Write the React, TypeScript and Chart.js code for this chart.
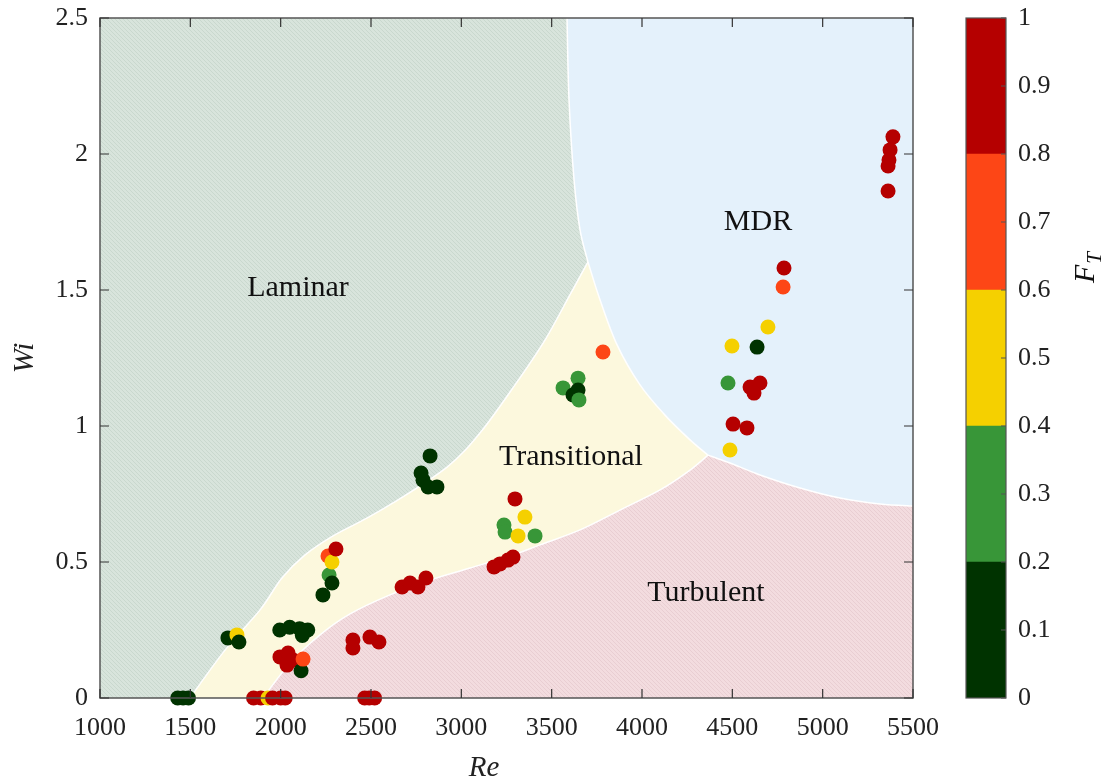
import React, { useEffect, useRef } from 'react';
import { Chart, registerables } from 'chart.js';

Chart.register(...registerables);

// ---------- data ----------
const reValues = [
  1430, 1460, 1490,
  1850, 1890, 1930, 1955, 2000, 2025,
  2465, 2490, 2520,
  2400, 2400, 2494, 2544,
  1708, 1758, 1769,
  1995, 2050, 2105, 2150, 2120,
  1996, 2041, 2035, 2068, 2113, 2124,
  2262, 2268, 2284, 2306, 2284, 2234,
  2672, 2716, 2760, 2804,
  2827, 2777, 2788, 2816, 2865,
  3181, 3214, 3258, 3286,
  3297, 3352, 3236, 3242, 3314, 3408,
  3784, 3563, 3646, 3618, 3646, 3651,
  4786, 4781, 4697, 4498, 4637, 4476, 4598, 4653, 4620, 4504, 4581, 4487,
  5389, 5373, 5367, 5362, 5362,
];
const wiValues = [
  0, 0, 0,
  0, 0, 0, 0, 0, 0,
  0, 0, 0,
  0.213, 0.184, 0.224, 0.206,
  0.221, 0.232, 0.206,
  0.25, 0.26, 0.255, 0.25, 0.23,
  0.151, 0.165, 0.121, 0.14, 0.1, 0.143,
  0.522, 0.452, 0.5, 0.548, 0.423, 0.379,
  0.408, 0.423, 0.408, 0.441,
  0.89, 0.827, 0.801, 0.776, 0.776,
  0.482, 0.493, 0.507, 0.518,
  0.732, 0.665, 0.636, 0.61, 0.596, 0.596,
  1.272, 1.14, 1.176, 1.114, 1.132, 1.096,
  1.581, 1.511, 1.364, 1.294, 1.29, 1.158, 1.143, 1.158, 1.121, 1.007, 0.993, 0.912,
  2.063, 2.015, 1.978, 1.956, 1.864,
];
const ftValues = [
  0.1, 0.1, 0.1,
  0.9, 0.9, 0.5, 0.9, 0.9, 0.9,
  0.9, 0.9, 0.9,
  0.9, 0.9, 0.9, 0.9,
  0.1, 0.5, 0.1,
  0.1, 0.1, 0.1, 0.1, 0.1,
  0.9, 0.9, 0.9, 0.9, 0.1, 0.7,
  0.7, 0.3, 0.5, 0.9, 0.1, 0.1,
  0.9, 0.9, 0.9, 0.9,
  0.1, 0.1, 0.1, 0.1, 0.1,
  0.9, 0.9, 0.9, 0.9,
  0.9, 0.5, 0.3, 0.3, 0.5, 0.3,
  0.7, 0.3, 0.3, 0.1, 0.1, 0.3,
  0.9, 0.7, 0.5, 0.5, 0.1, 0.3, 0.9, 0.9, 0.9, 0.9, 0.9, 0.5,
  0.9, 0.9, 0.9, 0.9, 0.9,
];

const xTicks = [1000, 1500, 2000, 2500, 3000, 3500, 4000, 4500, 5000, 5500];
const yTicks = [0, 0.5, 1, 1.5, 2, 2.5];
const colorbarTicks = [0, 0.1, 0.2, 0.3, 0.4, 0.5, 0.6, 0.7, 0.8, 0.9, 1];
const ftBands = [0.2, 0.2, 0.2, 0.2, 0.2];
const ftColors = ['#003300', '#389638', '#f5d000', '#fd4616', '#b50000'];

// region boundaries (Re, Wi)
const lamTransRe = [1498, 1692, 1886, 2007, 2135, 2290, 2456, 2622, 2921, 3103, 3297, 3463, 3601, 3701];
const lamTransWi = [0, 0.176, 0.324, 0.441, 0.526, 0.596, 0.654, 0.717, 0.849, 0.974, 1.151, 1.316, 1.482, 1.603];
const lamMdrRe = [3585, 3596, 3624, 3657, 3701];
const lamMdrWi = [2.5, 2.2, 1.904, 1.721, 1.603];
const transMdrRe = [3701, 3768, 3862, 3989, 4127, 4266, 4365];
const transMdrWi = [1.603, 1.463, 1.298, 1.151, 1.04, 0.949, 0.893];
const mdrTurbRe = [4365, 4487, 4653, 4875, 5096, 5317, 5500];
const mdrTurbWi = [0.893, 0.864, 0.82, 0.772, 0.735, 0.713, 0.706];
const transTurbRe = [4365, 4266, 4100, 3878, 3657, 3435, 3286, 3048, 2827, 2605, 2384, 2218, 2052, 1902];
const transTurbWi = [0.893, 0.838, 0.765, 0.691, 0.618, 0.563, 0.526, 0.478, 0.434, 0.379, 0.309, 0.232, 0.129, 0];

const regionNames = ['Laminar', 'MDR', 'Transitional', 'Turbulent'];
const regionRe = [2096, 4642, 3607, 4354];
const regionWi = [1.507, 1.75, 0.886, 0.386];

const SERIF = '"Liberation Serif", "Times New Roman", serif';

function ftColor(v: number) {
  return ftColors[Math.min(4, Math.floor(v / 0.2))];
}

type P = [number, number];

function curve(ctx: CanvasRenderingContext2D, pts: P[], move: boolean) {
  if (move) ctx.moveTo(pts[0][0], pts[0][1]);
  else ctx.lineTo(pts[0][0], pts[0][1]);
  for (let i = 0; i < pts.length - 1; i++) {
    const p0 = pts[i - 1] || pts[i];
    const p1 = pts[i];
    const p2 = pts[i + 1];
    const p3 = pts[i + 2] || pts[i + 1];
    ctx.bezierCurveTo(
      p1[0] + (p2[0] - p0[0]) / 6, p1[1] + (p2[1] - p0[1]) / 6,
      p2[0] - (p3[0] - p1[0]) / 6, p2[1] - (p3[1] - p1[1]) / 6,
      p2[0], p2[1]
    );
  }
}

function makePattern(ctx: CanvasRenderingContext2D, base: string, line: string) {
  const c = document.createElement('canvas');
  c.width = 4; c.height = 4;
  const g = c.getContext('2d')!;
  g.fillStyle = base; g.fillRect(0, 0, 4, 4);
  g.strokeStyle = line; g.lineWidth = 1;
  g.beginPath(); g.moveTo(-1, -1); g.lineTo(5, 5); g.stroke();
  g.beginPath(); g.moveTo(-1, 3); g.lineTo(1, 5); g.stroke();
  g.beginPath(); g.moveTo(3, -1); g.lineTo(5, 1); g.stroke();
  return ctx.createPattern(c, 'repeat')!;
}

const regionsPlugin = {
  id: 'regions',
  beforeDatasetsDraw(chart: any) {
    const { ctx, chartArea: a, scales } = chart;
    const sx = scales.x, sy = scales.y;
    const pts = (res: number[], wis: number[]): P[] =>
      res.map((r, i) => [sx.getPixelForValue(r), sy.getPixelForValue(wis[i])] as P);
    const LT = pts(lamTransRe, lamTransWi);
    const LM = pts(lamMdrRe, lamMdrWi);
    const TM = pts(transMdrRe, transMdrWi);
    const MT = pts(mdrTurbRe, mdrTurbWi);
    const TT = pts(transTurbRe, transTurbWi);

    ctx.save();
    ctx.beginPath();
    ctx.rect(a.left, a.top, a.right - a.left, a.bottom - a.top);
    ctx.clip();

    ctx.fillStyle = makePattern(ctx, '#d8e4dc', '#c9d8ce');
    ctx.fillRect(a.left, a.top, a.right - a.left, a.bottom - a.top);

    ctx.beginPath();
    curve(ctx, LM, true);
    curve(ctx, TM, false);
    curve(ctx, MT, false);
    ctx.lineTo(a.right + 2, MT[MT.length - 1][1]);
    ctx.lineTo(a.right + 2, a.top - 2);
    ctx.closePath();
    ctx.fillStyle = '#e4f1fb';
    ctx.fill();

    ctx.beginPath();
    curve(ctx, LT, true);
    curve(ctx, TM, false);
    curve(ctx, TT, false);
    ctx.closePath();
    ctx.fillStyle = '#fcf8dd';
    ctx.fill();

    ctx.beginPath();
    curve(ctx, TT, true);
    ctx.lineTo(a.right + 2, a.bottom + 2);
    ctx.lineTo(a.right + 2, MT[MT.length - 1][1]);
    curve(ctx, MT.slice().reverse(), false);
    ctx.closePath();
    ctx.fillStyle = makePattern(ctx, '#f3dcdf', '#e9ced2');
    ctx.fill();

    ctx.strokeStyle = '#ffffff';
    ctx.lineWidth = 1.5;
    [LT, LM, TM, MT, TT].forEach((p) => {
      ctx.beginPath();
      curve(ctx, p, true);
      ctx.stroke();
    });
    ctx.restore();

    ctx.save();
    ctx.fillStyle = '#111';
    ctx.font = `30px ${SERIF}`;
    ctx.textAlign = 'center';
    ctx.textBaseline = 'middle';
    regionNames.forEach((n, i) => {
      ctx.fillText(n, sx.getPixelForValue(regionRe[i]), sy.getPixelForValue(regionWi[i]));
    });
    ctx.restore();
  },
  afterDraw(chart: any) {
    const { ctx, chartArea: a, scales } = chart;
    ctx.save();
    ctx.strokeStyle = '#555';
    ctx.lineWidth = 1.5;
    ctx.strokeRect(a.left, a.top, a.right - a.left, a.bottom - a.top);
    ctx.lineWidth = 1.2;
    ctx.strokeStyle = '#333';
    const L = 9;
    ctx.beginPath();
    xTicks.forEach((v) => {
      const px = scales.x.getPixelForValue(v);
      ctx.moveTo(px, a.bottom); ctx.lineTo(px, a.bottom - L);
      ctx.moveTo(px, a.top); ctx.lineTo(px, a.top + L);
    });
    yTicks.forEach((v) => {
      const py = scales.y.getPixelForValue(v);
      ctx.moveTo(a.left, py); ctx.lineTo(a.left + L, py);
      ctx.moveTo(a.right, py); ctx.lineTo(a.right - L, py);
    });
    ctx.stroke();

    ctx.fillStyle = '#222';
    ctx.font = `italic 29px ${SERIF}`;
    ctx.textAlign = 'center';
    ctx.textBaseline = 'middle';
    ctx.fillText('Re', 484, 768);
    ctx.restore();
  },
};

const colorbarPlugin = {
  id: 'colorbarFrame',
  afterDraw(chart: any) {
    const { ctx, chartArea: a, scales } = chart;
    ctx.save();
    ctx.strokeStyle = '#555';
    ctx.lineWidth = 1.2;
    ctx.strokeRect(a.left, a.top, a.right - a.left, a.bottom - a.top);
    ctx.beginPath();
    colorbarTicks.forEach((v) => {
      const py = scales.y.getPixelForValue(v);
      ctx.moveTo(a.right, py); ctx.lineTo(a.right - 5, py);
    });
    ctx.stroke();

    ctx.translate(a.right + 78, 268);
    ctx.rotate(-Math.PI / 2);
    ctx.fillStyle = '#111';
    ctx.textBaseline = 'alphabetic';
    ctx.textAlign = 'left';
    ctx.font = `italic 30px ${SERIF}`;
    const wF = ctx.measureText('F').width;
    ctx.font = `italic 21px ${SERIF}`;
    const wT = ctx.measureText('T').width;
    const start = -(wF + wT) / 2;
    ctx.font = `italic 30px ${SERIF}`;
    ctx.fillText('F', start, 10);
    ctx.font = `italic 21px ${SERIF}`;
    ctx.fillText('T', start + wF + 1, 17);
    ctx.restore();
  },
};

export default function App() {
  const mainRef = useRef<HTMLCanvasElement>(null);
  const barRef = useRef<HTMLCanvasElement>(null);

  useEffect(() => {
    const tickFont = { family: SERIF, size: 26 };
    const points = reValues.map((r, i) => ({ x: r, y: wiValues[i] }));
    const main = new Chart(mainRef.current!, {
      type: 'scatter',
      data: {
        datasets: [
          {
            data: points,
            pointRadius: 7.5,
            pointBorderWidth: 0,
            pointBackgroundColor: ftValues.map(ftColor),
            pointBorderColor: ftValues.map(ftColor),
            clip: false as any,
          },
        ],
      },
      options: {
        responsive: false,
        animation: false,
        events: [],
        layout: { padding: { top: 18, right: 27, left: 0, bottom: 0 } },
        plugins: { legend: { display: false }, tooltip: { enabled: false } },
        scales: {
          x: {
            type: 'linear',
            min: 1000,
            max: 5500,
            afterBuildTicks: (s: any) => { s.ticks = xTicks.map((v) => ({ value: v })); },
            afterFit: (s: any) => { s.height = 86; s.paddingLeft = 0; s.paddingRight = 0; },
            grid: { display: false, drawTicks: false },
            border: { display: false },
            ticks: { font: tickFont, color: '#222', padding: 15, maxRotation: 0, autoSkip: false, callback: (v: any) => String(v) },
          },
          y: {
            type: 'linear',
            min: 0,
            max: 2.5,
            afterBuildTicks: (s: any) => { s.ticks = yTicks.map((v) => ({ value: v })); },
            afterFit: (s: any) => { s.width = 100; s.paddingTop = 0; s.paddingBottom = 0; },
            grid: { display: false, drawTicks: false },
            border: { display: false },
            ticks: { font: tickFont, color: '#222', padding: 12, callback: (v: any) => String(v) },
            title: {
              display: true,
              text: 'Wi',
              font: { family: SERIF, size: 29, style: 'italic' },
              color: '#222',
              padding: { top: 8, bottom: 0 },
            },
          },
        },
      },
      plugins: [regionsPlugin],
    });

    const bar = new Chart(barRef.current!, {
      type: 'bar',
      data: {
        labels: [''],
        datasets: ftBands.map((b, i) => ({
          data: [b],
          backgroundColor: ftColors[i],
          borderWidth: 0,
          barPercentage: 1,
          categoryPercentage: 1,
        })),
      },
      options: {
        responsive: false,
        animation: false,
        events: [],
        layout: { padding: { top: 18, left: 26, bottom: 86, right: 0 } },
        plugins: { legend: { display: false }, tooltip: { enabled: false } },
        scales: {
          x: { display: false, stacked: true },
          y: {
            stacked: true,
            position: 'right',
            min: 0,
            max: 1,
            afterBuildTicks: (s: any) => { s.ticks = colorbarTicks.map((v) => ({ value: v })); },
            afterFit: (s: any) => { s.width = 112; s.paddingTop = 0; s.paddingBottom = 0; },
            grid: { display: false, drawTicks: false },
            border: { display: false },
            ticks: {
              font: tickFont,
              color: '#222',
              padding: 12,
              callback: (v: any) => (v === 0 ? '0' : v === 1 ? '1' : Number(v).toFixed(1)),
            },
          },
        },
      },
      plugins: [colorbarPlugin],
    });

    return () => {
      main.destroy();
      bar.destroy();
    };
  }, []);

  return (
    <div style={{ position: 'absolute', left: 0, top: 0, width: 1118, height: 784, background: '#fff' }}>
      <canvas ref={mainRef} width={940} height={784} style={{ position: 'absolute', left: 0, top: 0, display: 'block' }} />
      <canvas ref={barRef} width={178} height={784} style={{ position: 'absolute', left: 940, top: 0, display: 'block' }} />
    </div>
  );
}
